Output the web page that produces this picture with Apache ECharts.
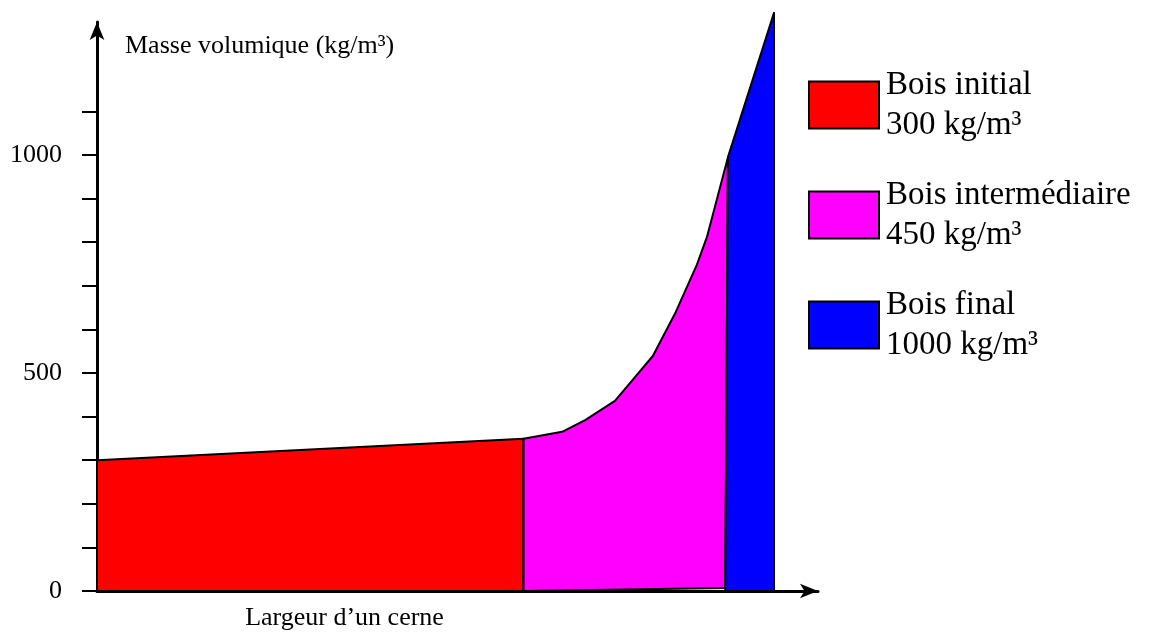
<!DOCTYPE html>
<html>
<head>
<meta charset="utf-8">
<script src="https://cdn.jsdelivr.net/npm/echarts@6/dist/echarts.min.js"></script>
<style>
  html, body { margin: 0; padding: 0; background: #fff; }
  #chart { width: 1158px; height: 634px; }
</style>
</head>
<body>
<div id="chart"></div>
<script>
// x : position dans le cerne (% de la largeur), y : masse volumique (kg/m3)
var zoneNames = ['Bois initial', 'Bois intermédiaire', 'Bois final'];
var zoneDensity = ['300 kg/m³', '450 kg/m³', '1000 kg/m³'];
var zoneColors = ['#ff0000', '#ff00ff', '#0000ff'];

var initialX = [0, 0, 63, 63];
var initialY = [0, 300, 349, 0];

var intermX = [63, 63, 68.7, 72.1, 76.5, 79.5, 82.1, 85.5, 88.6, 90.1, 93.2, 92.8];
var intermY = [0, 349, 365, 392, 436, 491, 539, 640, 748, 812, 995, 7];

var finalX = [92.8, 93.2, 100, 100];
var finalY = [0, 995, 1326, 0];

var yTickValues = [0, 100, 200, 300, 400, 500, 600, 700, 800, 900, 1000, 1100];
var yLabelValues = [0, 500, 1000];

var serif = 'Liberation Serif';

function zone(idx, xs, ys) {
	var pts = xs.map(function (x, i) { return [x, ys[i]]; });
	return {
		type: 'custom',
		name: zoneNames[idx],
		clip: false,
		encode: { x: 0, y: 1 },
		itemStyle: { color: zoneColors[idx], borderColor: '#000', borderWidth: 2 },
		data: pts,
		renderItem: function (params, api) {
			if (params.dataIndex !== 0) { return; }
			var poly = pts.map(function (p) { return api.coord(p); });
			return {
				type: 'polygon',
				shape: { points: poly },
				style: { fill: zoneColors[idx], stroke: '#000', lineWidth: 2, lineJoin: 'round' }
			};
		}
	};
}

var chart = echarts.init(document.getElementById('chart'));
chart.setOption({
	animation: false,
	grid: { left: 97, right: 340, top: 22, bottom: 43, outerBoundsMode: 'none', containLabel: false },
	legend: {
		orient: 'vertical',
		left: 803,
		top: 60,
		selectedMode: false,
		icon: 'rect',
		itemWidth: 70,
		itemHeight: 47,
		itemGap: 30,
		itemStyle: { borderColor: '#000', borderWidth: 2 },
		textStyle: { fontFamily: serif, fontSize: 33, lineHeight: 40, color: '#000', padding: [0, 0, 0, 2] },
		formatter: function (name) {
			return name + '\n' + zoneDensity[zoneNames.indexOf(name)];
		},
		data: zoneNames
	},
	xAxis: {
		type: 'value',
		min: 0,
		max: 106.5,
		name: 'Largeur d’un cerne',
		nameLocation: 'middle',
		nameGap: 14,
		nameTextStyle: { fontFamily: serif, fontSize: 26, color: '#000', verticalAlign: 'top', padding: [0, 226, 0, 0] },
		axisLine: { show: true, symbol: ['none', 'arrow'], symbolSize: [11, 18], lineStyle: { color: '#000', width: 3 } },
		axisTick: { show: false },
		axisLabel: { show: false },
		splitLine: { show: false }
	},
	yAxis: {
		type: 'value',
		min: 0,
		max: 1305,
		name: 'Masse volumique (kg/m³)',
		nameLocation: 'end',
		nameGap: -24,
		nameTextStyle: { fontFamily: serif, fontSize: 26, color: '#000', align: 'left', verticalAlign: 'middle', padding: [0, 0, 0, 28] },
		axisLine: { show: true, symbol: ['none', 'arrow'], symbolSize: [11, 18], lineStyle: { color: '#000', width: 3 } },
		axisTick: { show: true, inside: false, length: 15, customValues: yTickValues, lineStyle: { color: '#000', width: 2 } },
		axisLabel: {
			margin: 35, customValues: yLabelValues, fontFamily: serif, fontSize: 26, color: '#000',
			formatter: function (v) { return String(v); }
		},
		splitLine: { show: false }
	},
	series: [
		zone(0, initialX, initialY),
		zone(1, intermX, intermY),
		zone(2, finalX, finalY)
	]
});
</script>
</body>
</html>
